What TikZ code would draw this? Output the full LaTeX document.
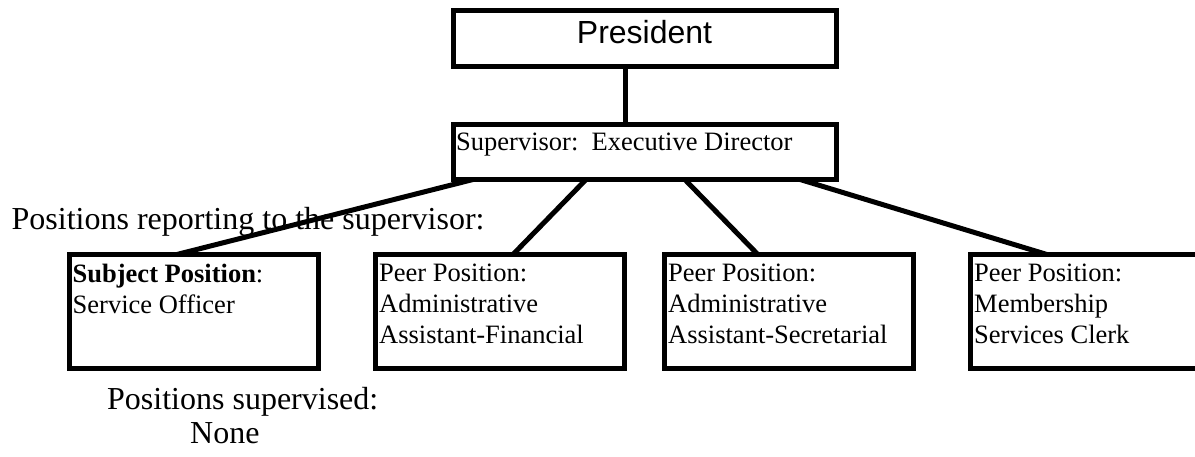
\documentclass[tikz,border=0pt]{standalone}
\usepackage{fontspec}
\setmainfont{Liberation Serif}
\newfontfamily\presfont{Liberation Sans}
\usetikzlibrary{calc}
\tikzset{
	chartbox/.style={draw, line width=5pt, outer sep=0pt, inner sep=0pt},
	boxtext/.style={anchor=north west, align=left, inner sep=0pt, font=\fontsize{26.5}{31}\selectfont},
	bigtext/.style={anchor=base west, inner sep=0pt, font=\fontsize{32}{38}\selectfont},
	link/.style={line width=5pt}
}
\begin{document}
\begin{tikzpicture}[x=1pt, y=-1pt]
		\useasboundingbox (0,0) rectangle (1195,456);
		\clip (0,0) rectangle (1195,456);
		% top of the chart
		\node[chartbox, minimum width=383pt, minimum height=56pt] (pres) at (645,38.5) {};
		\node[anchor=base, inner sep=0pt, font=\presfont\fontsize{32}{38}\selectfont] (prestext) at ($(pres.center)+(-0.5,4.5)$) {President};
		\node[chartbox, minimum width=383pt, minimum height=55pt] (sup) at (645,152) {};
		\node[boxtext] (suptext) at ($(sup.north west)+(2.5,8.5)$) {Supervisor:\ \ Executive Director};
		\node[bigtext] (reporting) at (11.5,229) {Positions reporting to the supervisor:};
		% positions reporting to the supervisor
		\node[chartbox, minimum width=249pt, minimum height=114pt] (subj) at (193.5,311.5) {};
		\node[chartbox, minimum width=249pt, minimum height=114pt] (fin) at (500,311.5) {};
		\node[chartbox, minimum width=249pt, minimum height=114pt] (sec) at (789,311.5) {};
		\node[chartbox, minimum width=249pt, minimum height=114pt] (clerk) at (1095,311.5) {};
		\node[boxtext] (subjtext) at ($(subj.north west)+(3.5,9.5)$) {\textbf{Subject Position}:\\Service Officer};
		\node[boxtext] (fintext) at ($(fin.north west)+(3.5,9.5)$) {Peer Position:\\Administrative\\Assistant-Financial};
		\node[boxtext] (sectext) at ($(sec.north west)+(3.5,9.5)$) {Peer Position:\\Administrative\\Assistant-Secretarial};
		\node[boxtext] (clerktext) at ($(clerk.north west)+(3.5,9.5)$) {Peer Position:\\Membership\\Services Clerk};
		\node[bigtext] (supervised) at (107,409) {Positions supervised:};
		\node[bigtext] (none) at (190,443) {None};
		% connectors
		\coordinate (vtop) at ($(pres.south west)!0.45!(pres.south east)$);
		\draw[link] (vtop) -- (vtop |- sup.north);
		\draw[link] ($(sup.south west)!0.051!(sup.south east)$) -- ($(subj.north west)!0.433!(subj.north east)$);
		\draw[link] ($(sup.south west)!0.346!(sup.south east)$) -- ($(fin.north west)!0.552!(fin.north east)$);
		\draw[link] ($(sup.south west)!0.604!(sup.south east)$) -- ($(sec.north west)!0.375!(sec.north east)$);
		\draw[link] ($(sup.south west)!0.905!(sup.south east)$) -- ($(clerk.north west)!0.307!(clerk.north east)$);
\end{tikzpicture}
\end{document}
